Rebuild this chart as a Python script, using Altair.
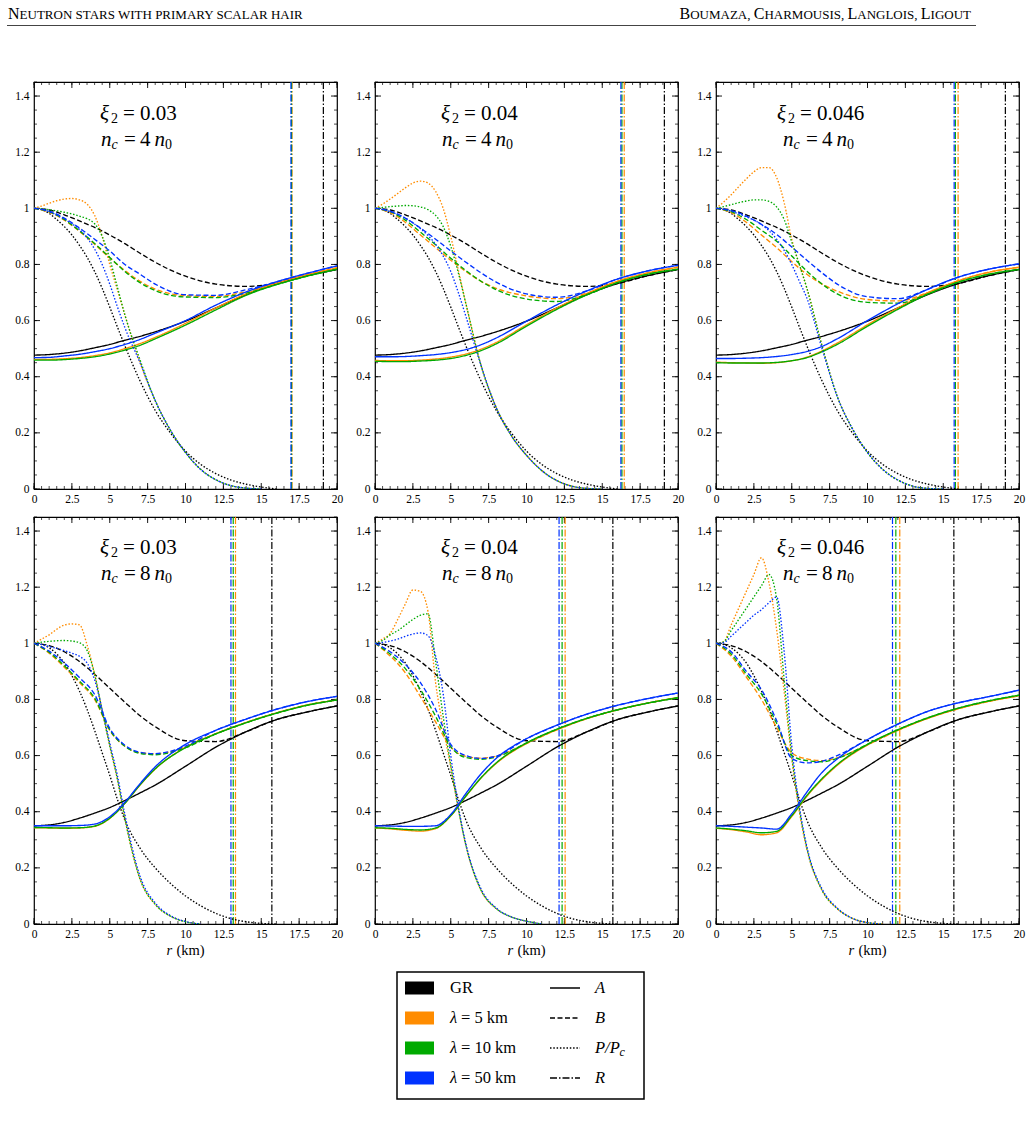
import altair as alt
import pandas as pd

# ------------------------------------------------------------------ grids
R_AB = [0, 1, 2, 3, 4, 5, 6, 7, 8, 10, 12, 14, 16, 18, 20]
R_P = [0, 0.5, 1, 1.5, 2, 2.5, 3, 3.5, 4, 4.5, 5, 5.5, 6, 7, 8, 9, 10, 11, 12, 13, 14, 15, 16]

X_TICKS = [0, 2.5, 5, 7.5, 10, 12.5, 15, 17.5, 20]
X_MINOR = [0, 0.5, 1, 1.5, 2, 2.5, 3, 3.5, 4, 4.5, 5, 5.5, 6, 6.5, 7, 7.5, 8, 8.5, 9, 9.5, 10,
           10.5, 11, 11.5, 12, 12.5, 13, 13.5, 14, 14.5, 15, 15.5, 16, 16.5, 17, 17.5, 18, 18.5,
           19, 19.5, 20]
Y_TICKS = [0, 0.2, 0.4, 0.6, 0.8, 1, 1.2, 1.4]
Y_MINOR = [0, 0.05, 0.1, 0.15, 0.2, 0.25, 0.3, 0.35, 0.4, 0.45, 0.5, 0.55, 0.6, 0.65, 0.7, 0.75,
           0.8, 0.85, 0.9, 0.95, 1, 1.05, 1.1, 1.15, 1.2, 1.25, 1.3, 1.35, 1.4, 1.45]

# ------------------------------------------------------------------ GR (same in every column of a row)
A_GR_4 = [0.477, 0.479, 0.484, 0.492, 0.503, 0.515, 0.53, 0.544, 0.56, 0.598, 0.645, 0.693, 0.732, 0.76, 0.782]
B_GR_4 = [1, 0.994, 0.977, 0.955, 0.932, 0.905, 0.874, 0.84, 0.808, 0.758, 0.73, 0.722, 0.732, 0.76, 0.782]
P_GR_4 = [1, 0.995, 0.982, 0.96, 0.935, 0.905, 0.868, 0.826, 0.775, 0.715, 0.648, 0.578, 0.51, 0.385, 0.28,
          0.2, 0.135, 0.088, 0.055, 0.032, 0.017, 0.007, 0]
R_GR_4 = 19.1

A_GR_8 = [0.35, 0.353, 0.362, 0.377, 0.395, 0.415, 0.44, 0.467, 0.495, 0.562, 0.63, 0.685, 0.728, 0.755, 0.777]
B_GR_8 = [1, 0.992, 0.97, 0.935, 0.89, 0.84, 0.79, 0.742, 0.703, 0.653, 0.65, 0.685, 0.728, 0.755, 0.777]
P_GR_8 = [1, 0.996, 0.984, 0.962, 0.93, 0.885, 0.83, 0.765, 0.69, 0.61, 0.53, 0.445, 0.37, 0.27, 0.2,
          0.145, 0.1, 0.065, 0.038, 0.019, 0.008, 0.002, 0]
R_GR_8 = 15.7

# ------------------------------------------------------------------ panel 1: xi2=0.03, nc=4 n0
P1_A_L5 = [0.462, 0.462, 0.464, 0.468, 0.475, 0.485, 0.5, 0.518, 0.54, 0.59, 0.645, 0.695, 0.733, 0.763, 0.788]
P1_A_L10 = [0.459, 0.459, 0.461, 0.465, 0.471, 0.481, 0.495, 0.512, 0.535, 0.584, 0.638, 0.69, 0.728, 0.758, 0.783]
P1_A_L50 = [0.468, 0.469, 0.474, 0.48, 0.489, 0.5, 0.515, 0.533, 0.555, 0.6, 0.655, 0.702, 0.738, 0.768, 0.795]
P1_B_L5 = [1, 0.986, 0.958, 0.918, 0.872, 0.823, 0.778, 0.74, 0.712, 0.689, 0.686, 0.703, 0.733, 0.763, 0.788]
P1_B_L10 = [1, 0.988, 0.96, 0.92, 0.875, 0.825, 0.775, 0.735, 0.707, 0.684, 0.682, 0.698, 0.728, 0.758, 0.783]
P1_B_L50 = [1, 0.99, 0.965, 0.93, 0.89, 0.848, 0.8, 0.765, 0.73, 0.692, 0.69, 0.71, 0.738, 0.768, 0.795]
P1_P_L5 = [1, 1.008, 1.018, 1.027, 1.033, 1.035, 1.03, 1.015, 0.975, 0.9, 0.8, 0.71, 0.62, 0.45, 0.315,
           0.21, 0.13, 0.07, 0.033, 0.012, 0.003, 0]
P1_P_L10 = [1, 0.998, 0.995, 0.991, 0.986, 0.98, 0.972, 0.963, 0.945, 0.9, 0.82, 0.72, 0.62, 0.46, 0.315,
            0.21, 0.13, 0.07, 0.033, 0.012, 0.003, 0]
P1_P_L50 = [1, 0.996, 0.988, 0.976, 0.962, 0.945, 0.925, 0.895, 0.855, 0.8, 0.73, 0.65, 0.575, 0.45, 0.315,
            0.21, 0.13, 0.07, 0.033, 0.012, 0.003, 0]
P1_R = [17.03, 17.0, 16.96]

# ------------------------------------------------------------------ panel 2: xi2=0.04, nc=4 n0
P2_A_L5 = [0.458, 0.457, 0.457, 0.459, 0.463, 0.47, 0.481, 0.498, 0.522, 0.585, 0.645, 0.697, 0.74, 0.77, 0.79]
P2_A_L10 = [0.455, 0.454, 0.454, 0.456, 0.459, 0.465, 0.476, 0.493, 0.517, 0.58, 0.64, 0.692, 0.735, 0.765, 0.783]
P2_A_L50 = [0.471, 0.471, 0.472, 0.475, 0.479, 0.486, 0.497, 0.514, 0.538, 0.598, 0.656, 0.706, 0.748, 0.777, 0.797]
P2_B_L5 = [1, 0.985, 0.95, 0.905, 0.86, 0.815, 0.775, 0.74, 0.715, 0.688, 0.678, 0.698, 0.74, 0.77, 0.79]
P2_B_L10 = [1, 0.988, 0.958, 0.915, 0.87, 0.822, 0.778, 0.74, 0.71, 0.677, 0.668, 0.693, 0.735, 0.765, 0.783]
P2_B_L50 = [1, 0.99, 0.965, 0.93, 0.89, 0.848, 0.808, 0.77, 0.737, 0.695, 0.683, 0.706, 0.748, 0.777, 0.797]
P2_P_L5 = [1, 1.015, 1.033, 1.053, 1.073, 1.09, 1.097, 1.09, 1.06, 1.0, 0.9, 0.78, 0.66, 0.44, 0.29,
           0.19, 0.12, 0.066, 0.03, 0.01, 0.002, 0]
P2_P_L10 = [1, 1.003, 1.006, 1.008, 1.01, 1.009, 1.005, 0.995, 0.975, 0.935, 0.865, 0.77, 0.66, 0.44, 0.29,
            0.19, 0.12, 0.066, 0.03, 0.01, 0.002, 0]
P2_P_L50 = [1, 0.996, 0.988, 0.978, 0.965, 0.948, 0.928, 0.903, 0.872, 0.83, 0.775, 0.7, 0.615, 0.44, 0.29,
            0.19, 0.12, 0.066, 0.03, 0.01, 0.002, 0]
P2_R = [16.45, 16.3, 16.23]

# ------------------------------------------------------------------ panel 3: xi2=0.046, nc=4 n0
P3_A_L5 = [0.452, 0.45, 0.449, 0.448, 0.45, 0.457, 0.47, 0.492, 0.52, 0.585, 0.645, 0.7, 0.742, 0.772, 0.79]
P3_A_L10 = [0.45, 0.449, 0.449, 0.449, 0.451, 0.457, 0.468, 0.489, 0.515, 0.58, 0.64, 0.695, 0.737, 0.765, 0.782]
P3_A_L50 = [0.465, 0.465, 0.466, 0.468, 0.472, 0.479, 0.49, 0.508, 0.535, 0.6, 0.66, 0.712, 0.755, 0.783, 0.802]
P3_B_L5 = [1, 0.985, 0.95, 0.905, 0.86, 0.81, 0.765, 0.73, 0.705, 0.675, 0.67, 0.7, 0.742, 0.772, 0.79]
P3_B_L10 = [1, 0.988, 0.96, 0.922, 0.883, 0.83, 0.776, 0.73, 0.695, 0.665, 0.662, 0.695, 0.737, 0.765, 0.782]
P3_B_L50 = [1, 0.992, 0.972, 0.943, 0.907, 0.862, 0.815, 0.77, 0.73, 0.685, 0.678, 0.712, 0.755, 0.783, 0.802]
P3_P_L5 = [1, 1.022, 1.048, 1.077, 1.105, 1.13, 1.145, 1.145, 1.11, 1.02, 0.89, 0.8, 0.715, 0.51, 0.33,
           0.215, 0.13, 0.07, 0.032, 0.01, 0.002, 0]
P3_P_L10 = [1, 1.006, 1.013, 1.02, 1.026, 1.03, 1.03, 1.025, 1.005, 0.96, 0.88, 0.8, 0.715, 0.51, 0.33,
            0.215, 0.13, 0.07, 0.032, 0.01, 0.002, 0]
P3_P_L50 = [1, 0.997, 0.99, 0.98, 0.97, 0.958, 0.942, 0.92, 0.89, 0.85, 0.8, 0.74, 0.68, 0.5, 0.33,
            0.215, 0.13, 0.07, 0.032, 0.01, 0.002, 0]
P3_R = [15.98, 15.8, 15.72]

# ------------------------------------------------------------------ panel 4: xi2=0.03, nc=8 n0
P4_A_L5 = [0.343, 0.342, 0.341, 0.342, 0.348, 0.376, 0.43, 0.495, 0.552, 0.63, 0.678, 0.718, 0.752, 0.78, 0.798]
P4_A_L10 = [0.344, 0.343, 0.342, 0.343, 0.349, 0.377, 0.43, 0.496, 0.553, 0.628, 0.677, 0.717, 0.751, 0.779, 0.798]
P4_A_L50 = [0.35, 0.35, 0.35, 0.351, 0.356, 0.382, 0.434, 0.5, 0.56, 0.64, 0.69, 0.73, 0.765, 0.792, 0.811]
P4_B_L5 = [1, 0.965, 0.915, 0.86, 0.8, 0.69, 0.633, 0.61, 0.606, 0.63, 0.678, 0.718, 0.752, 0.78, 0.798]
P4_B_L10 = [1, 0.968, 0.92, 0.865, 0.805, 0.692, 0.633, 0.608, 0.603, 0.628, 0.677, 0.717, 0.751, 0.779, 0.798]
P4_B_L50 = [1, 0.972, 0.93, 0.878, 0.818, 0.697, 0.637, 0.612, 0.607, 0.634, 0.69, 0.73, 0.765, 0.792, 0.811]
P4_P_L5 = [1, 1.015, 1.03, 1.05, 1.065, 1.069, 1.066, 0.995, 0.89, 0.76, 0.635, 0.517, 0.375, 0.16, 0.07,
           0.028, 0.008, 0]
P4_P_L10 = [1, 1.004, 1.007, 1.009, 1.01, 1.008, 1.002, 0.975, 0.89, 0.76, 0.635, 0.517, 0.375, 0.16, 0.07,
            0.028, 0.008, 0]
P4_P_L50 = [1, 0.996, 0.988, 0.982, 0.974, 0.965, 0.954, 0.93, 0.87, 0.765, 0.645, 0.53, 0.39, 0.17, 0.075,
            0.03, 0.009, 0]
P4_R = [13.3, 13.15, 13.0]

# ------------------------------------------------------------------ panel 5: xi2=0.04, nc=8 n0
P5_A_L5 = [0.342, 0.339, 0.334, 0.331, 0.34, 0.385, 0.455, 0.52, 0.572, 0.643, 0.692, 0.732, 0.763, 0.787, 0.807]
P5_A_L10 = [0.343, 0.341, 0.337, 0.335, 0.342, 0.386, 0.456, 0.521, 0.574, 0.645, 0.694, 0.733, 0.763, 0.787, 0.806]
P5_A_L50 = [0.35, 0.349, 0.348, 0.348, 0.35, 0.39, 0.465, 0.535, 0.59, 0.66, 0.708, 0.748, 0.779, 0.803, 0.823]
P5_B_L5 = [1, 0.955, 0.895, 0.81, 0.72, 0.63, 0.597, 0.591, 0.598, 0.643, 0.692, 0.732, 0.763, 0.787, 0.807]
P5_B_L10 = [1, 0.962, 0.91, 0.835, 0.74, 0.632, 0.593, 0.587, 0.595, 0.645, 0.694, 0.733, 0.763, 0.787, 0.806]
P5_B_L50 = [1, 0.97, 0.925, 0.86, 0.765, 0.64, 0.6, 0.59, 0.598, 0.66, 0.708, 0.748, 0.779, 0.803, 0.823]
P5_P_L5 = [1, 1.015, 1.035, 1.085, 1.14, 1.19, 1.185, 1.113, 0.86, 0.7, 0.56, 0.41, 0.28, 0.12, 0.055,
           0.025, 0.01, 0]
P5_P_L10 = [1, 1.01, 1.03, 1.045, 1.065, 1.085, 1.1, 1.105, 0.935, 0.74, 0.565, 0.41, 0.28, 0.12, 0.055,
            0.025, 0.01, 0]
P5_P_L50 = [1, 1.003, 1.008, 1.015, 1.025, 1.033, 1.037, 1.027, 0.955, 0.82, 0.6, 0.42, 0.285, 0.125, 0.057,
            0.025, 0.01, 0]
P5_R = [12.55, 12.35, 12.15]

# ------------------------------------------------------------------ panel 6: xi2=0.046, nc=8 n0
P6_A_L5 = [0.341, 0.336, 0.328, 0.318, 0.325, 0.383, 0.455, 0.515, 0.565, 0.638, 0.69, 0.733, 0.767, 0.793, 0.813]
P6_A_L10 = [0.342, 0.338, 0.332, 0.325, 0.33, 0.386, 0.458, 0.518, 0.568, 0.64, 0.692, 0.735, 0.769, 0.795, 0.815]
P6_A_L50 = [0.35, 0.348, 0.345, 0.342, 0.338, 0.393, 0.47, 0.54, 0.588, 0.657, 0.712, 0.758, 0.788, 0.81, 0.833]
P6_B_L5 = [1, 0.955, 0.88, 0.8, 0.7, 0.61, 0.588, 0.582, 0.592, 0.638, 0.69, 0.733, 0.767, 0.793, 0.813]
P6_B_L10 = [1, 0.962, 0.89, 0.82, 0.715, 0.6, 0.582, 0.578, 0.59, 0.64, 0.692, 0.735, 0.769, 0.795, 0.815]
P6_B_L50 = [1, 0.97, 0.9, 0.835, 0.725, 0.59, 0.574, 0.58, 0.6, 0.657, 0.712, 0.758, 0.788, 0.81, 0.833]
P6_P_L5 = [1, 1.005, 1.065, 1.125, 1.185, 1.245, 1.305, 1.215, 1.05, 0.827, 0.59, 0.4, 0.265, 0.12, 0.055,
           0.02, 0.005, 0]
P6_P_L10 = [1, 1.005, 1.045, 1.085, 1.125, 1.165, 1.205, 1.245, 1.16, 0.87, 0.6, 0.41, 0.27, 0.12, 0.055,
            0.02, 0.005, 0]
P6_P_L50 = [1, 1.002, 1.025, 1.05, 1.075, 1.1, 1.12, 1.145, 1.165, 0.97, 0.635, 0.42, 0.275, 0.125, 0.057,
            0.02, 0.005, 0]
P6_R = [12.13, 11.87, 11.65]

XI_LABELS = ["0.03", "0.04", "0.046", "0.03", "0.04", "0.046"]
NC_LABELS = ["4", "4", "4", "8", "8", "8"]
LEGEND_LAMBDA = ["5", "10", "50"]

# ------------------------------------------------------------------ style
FONT = "Liberation Serif"
MODELS = ["GR", "L5", "L10", "L50"]
COLORS = {"GR": "#000000", "L5": "#ff8c00", "L10": "#00aa00", "L50": "#0032ff"}
W, H = 303, 407
XS = alt.Scale(domain=[0, 20], nice=False, zero=False)
YS = alt.Scale(domain=[0, 1.45], nice=False, zero=False)
DOT = [1.5, 1.8]
DASH = alt.Scale(domain=["A", "B", "P"], range=[[1, 0], [5, 2.5], DOT])
DASHDOT = [7, 2, 1.5, 2]
DUMMY = pd.DataFrame({"d": [0]})
EQ = 21  # annotation font size

XAXIS = alt.Axis(values=X_TICKS, labelExpr="'' + datum.value", title=None, ticks=False, domain=False,
                 grid=False, labelFlush=False, labelOverlap=False, labelPadding=4, labelFont=FONT,
                 labelFontSize=11.5, labelColor="black")
YAXIS = alt.Axis(values=Y_TICKS, labelExpr="'' + datum.value", title=None, ticks=False, domain=False,
                 grid=False, labelOverlap=False, labelPadding=5, labelFont=FONT, labelFontSize=11.5,
                 labelColor="black")


def xenc(field):
    return alt.X(field, scale=XS, axis=XAXIS)


def yenc(field):
    return alt.Y(field, scale=YS, axis=YAXIS)


def txt(s, x, y, size, italic=False, align="left", baseline="alphabetic"):
    kw = dict(text=s, font=FONT, fontSize=size, align=align, baseline=baseline, color="black")
    if italic:
        kw["fontStyle"] = "italic"
    return alt.Chart(DUMMY).mark_text(**kw).encode(x=alt.value(x), y=alt.value(y))


def hrule(x1, x2, y, dash=None, width=1.5, color="black"):
    kw = dict(color=color, strokeWidth=width)
    if dash:
        kw["strokeDash"] = dash
    return alt.Chart(DUMMY).mark_rule(**kw).encode(x=alt.value(x1), x2=alt.value(x2), y=alt.value(y))


def box(x1, x2, y1, y2, fill, stroke=None, sw=0):
    kw = dict(fill=fill, strokeWidth=sw)
    if stroke:
        kw["stroke"] = stroke
    return alt.Chart(DUMMY).mark_rect(**kw).encode(
        x=alt.value(x1), x2=alt.value(x2), y=alt.value(y1), y2=alt.value(y2))


TIMES_W = {"A": 722, "B": 667, "C": 667, "D": 722, "E": 611, "F": 556, "G": 722, "H": 722, "I": 333,
           "J": 389, "K": 722, "L": 611, "M": 889, "N": 722, "O": 722, "P": 556, "Q": 722, "R": 667,
           "S": 556, "T": 611, "U": 722, "V": 722, "W": 944, "X": 722, "Y": 722, "Z": 611, " ": 250,
           ",": 250}


def tw(s, size):
    return sum(TIMES_W.get(c, 600) for c in s) * size / 1000.0


def smallcaps(pieces, x0, y):
    out = []
    x = x0
    for s, size in pieces:
        out.append(txt(s.rstrip(), x, y, size))
        x += tw(s, size)
    return out


def tick_layers():
    L = []
    maj_x = alt.Chart(pd.DataFrame({"t": X_TICKS})).mark_rule(color="black", strokeWidth=0.9)
    min_x = alt.Chart(pd.DataFrame({"t": X_MINOR})).mark_rule(color="black", strokeWidth=0.7)
    maj_y = alt.Chart(pd.DataFrame({"t": Y_TICKS})).mark_rule(color="black", strokeWidth=0.9)
    min_y = alt.Chart(pd.DataFrame({"t": Y_MINOR})).mark_rule(color="black", strokeWidth=0.7)
    L.append(maj_x.encode(x=xenc("t:Q"), y=alt.value(H), y2=alt.value(H - 6)))
    L.append(maj_x.encode(x=xenc("t:Q"), y=alt.value(0), y2=alt.value(6)))
    L.append(min_x.encode(x=xenc("t:Q"), y=alt.value(H), y2=alt.value(H - 3)))
    L.append(min_x.encode(x=xenc("t:Q"), y=alt.value(0), y2=alt.value(3)))
    L.append(maj_y.encode(y=yenc("t:Q"), x=alt.value(0), x2=alt.value(6)))
    L.append(maj_y.encode(y=yenc("t:Q"), x=alt.value(W), x2=alt.value(W - 6)))
    L.append(min_y.encode(y=yenc("t:Q"), x=alt.value(0), x2=alt.value(3)))
    L.append(min_y.encode(y=yenc("t:Q"), x=alt.value(W), x2=alt.value(W - 3)))
    return L


def curve_df(A, B, P):
    rows = []
    for kind, grid, vals in (("A", R_AB, A), ("B", R_AB, B), ("P", R_P, P)):
        for r, v in zip(grid, vals):
            rows.append({"kind": kind, "r": r, "v": v})
    return pd.DataFrame(rows)


PANEL_DATA = [
    (A_GR_4, B_GR_4, P_GR_4, R_GR_4, [P1_A_L5, P1_A_L10, P1_A_L50], [P1_B_L5, P1_B_L10, P1_B_L50],
     [P1_P_L5, P1_P_L10, P1_P_L50], P1_R),
    (A_GR_4, B_GR_4, P_GR_4, R_GR_4, [P2_A_L5, P2_A_L10, P2_A_L50], [P2_B_L5, P2_B_L10, P2_B_L50],
     [P2_P_L5, P2_P_L10, P2_P_L50], P2_R),
    (A_GR_4, B_GR_4, P_GR_4, R_GR_4, [P3_A_L5, P3_A_L10, P3_A_L50], [P3_B_L5, P3_B_L10, P3_B_L50],
     [P3_P_L5, P3_P_L10, P3_P_L50], P3_R),
    (A_GR_8, B_GR_8, P_GR_8, R_GR_8, [P4_A_L5, P4_A_L10, P4_A_L50], [P4_B_L5, P4_B_L10, P4_B_L50],
     [P4_P_L5, P4_P_L10, P4_P_L50], P4_R),
    (A_GR_8, B_GR_8, P_GR_8, R_GR_8, [P5_A_L5, P5_A_L10, P5_A_L50], [P5_B_L5, P5_B_L10, P5_B_L50],
     [P5_P_L5, P5_P_L10, P5_P_L50], P5_R),
    (A_GR_8, B_GR_8, P_GR_8, R_GR_8, [P6_A_L5, P6_A_L10, P6_A_L50], [P6_B_L5, P6_B_L10, P6_B_L50],
     [P6_P_L5, P6_P_L10, P6_P_L50], P6_R),
]


def make_panel(i):
    a_gr, b_gr, p_gr, r_gr, As, Bs, Ps, Rs = PANEL_DATA[i]
    layers = tick_layers()
    curves = [curve_df(a_gr, b_gr, p_gr)] + [curve_df(As[k], Bs[k], Ps[k]) for k in range(3)]
    radii = [r_gr] + list(Rs)
    # stellar radius R (dash-dot verticals)
    for m, rad in zip(MODELS, radii):
        layers.append(alt.Chart(pd.DataFrame({"R": [rad]})).mark_rule(
            color=COLORS[m], strokeWidth=1.2, strokeDash=DASHDOT).encode(
            x=xenc("R:Q"), y=alt.value(0), y2=alt.value(H)))
    # curves A, B, P/Pc
    for m, df in zip(MODELS, curves):
        layers.append(alt.Chart(df).mark_line(
            color=COLORS[m], strokeWidth=1.35, interpolate="monotone", clip=True).encode(
            x=xenc("r:Q"), y=yenc("v:Q"),
            strokeDash=alt.StrokeDash("kind:N", scale=DASH, legend=None)))
    # annotation
    xi_x = 61 if XI_LABELS[i] == "0.046" else 66
    by = 38 if i < 3 else 37
    layers += [txt("ξ", xi_x, by, EQ, italic=True), txt("2", xi_x + 11, by + 3, 14),
               txt("=", xi_x + 23, by, EQ), txt(XI_LABELS[i], xi_x + 40, by, EQ)]
    nx = 67
    ny = by + 26
    layers += [txt("n", nx, ny, EQ, italic=True), txt("c", nx + 10.5, ny + 3, 14, italic=True),
               txt("=", nx + 23, ny, EQ), txt(NC_LABELS[i], nx + 39, ny, EQ),
               txt("n", nx + 53.5, ny, EQ, italic=True), txt("0", nx + 64, ny + 3, 14)]
    if i >= 3:
        layers += [txt("r", 132.5, 438, 14.5, italic=True), txt("(km)", 142.4, 438, 14.5)]
    if i == 0:
        layers += smallcaps([("N", 16), ("EUTRON STARS WITH PRIMARY SCALAR HAIR", 13)], -26, -63)
        right = [("B", 16), ("OUMAZA, ", 13), ("C", 16), ("HARMOUSIS, ", 13), ("L", 16),
                 ("ANGLOIS, ", 13), ("L", 16), ("IGOUT", 13)]
        total = sum(tw(s, z) for s, z in right)
        layers += smallcaps(right, 937 - total, -63)
        layers.append(hrule(-27, 942, -56.5, width=1.2, color="#444444"))
    if i == 4:
        # legend box below the middle panel
        layers.append(box(22, 269, 455, 582, "white", "black", 1.5))
        row_y = [471, 501, 531, 561]
        labels = [("GR", None)] + [("λ", lam) for lam in LEGEND_LAMBDA]
        for (m, (lab, lam)), yy in zip(zip(MODELS, labels), row_y):
            layers.append(box(30, 59, yy - 6.5, yy + 6.5, COLORS[m]))
            if lam is None:
                layers.append(txt(lab, 75, yy, 16.5, baseline="middle"))
            else:
                layers.append(txt("λ", 75, yy, 16.5, italic=True, baseline="middle"))
                layers.append(txt("= " + lam + " km", 86, yy, 16.5, baseline="middle"))
        dashes = [None, [5, 2.5], DOT, DASHDOT]
        for dsh, yy in zip(dashes, row_y):
            layers.append(hrule(175, 205, yy, dash=dsh, width=1.5))
        layers.append(txt("A", 220, row_y[0], 16.5, italic=True, baseline="middle"))
        layers.append(txt("B", 220, row_y[1], 16.5, italic=True, baseline="middle"))
        layers.append(txt("P/P", 220, row_y[2], 16.5, italic=True, baseline="middle"))
        layers.append(txt("c", 244.5, row_y[2] + 4, 12, italic=True, baseline="middle"))
        layers.append(txt("R", 220, row_y[3], 16.5, italic=True, baseline="middle"))
    return alt.layer(*layers).properties(width=W, height=H)


panels = [make_panel(i) for i in range(6)]

chart = alt.concat(*panels, columns=3, spacing={"row": 28, "column": 38}, bounds="flush").properties(
    padding={"left": 5, "top": 5, "right": 5, "bottom": 5},
    background="white",
).configure_view(stroke="black", strokeWidth=1.2)

chart.save("out.html", embed_options={"renderer": "svg", "actions": False})
